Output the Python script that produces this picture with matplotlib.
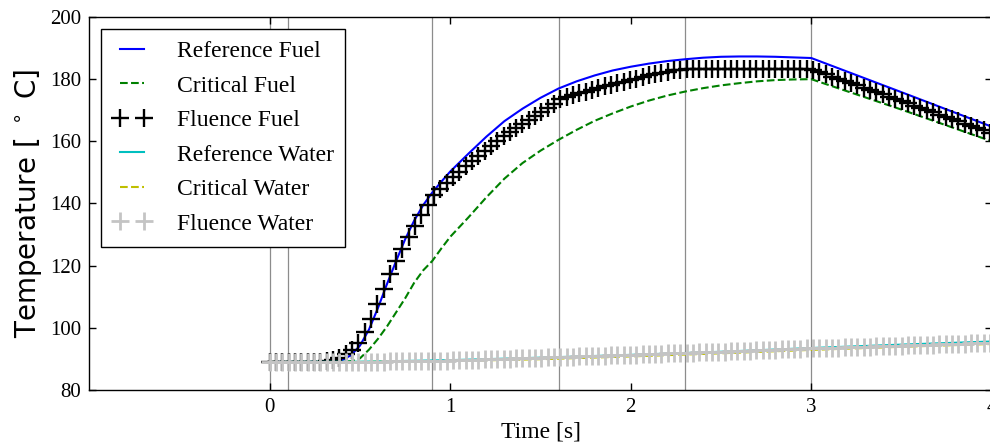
#!/usr/bin/env python3
"""
Fuel / water temperature transient: reference vs critical vs fluence
"""

import numpy as np
import matplotlib
matplotlib.use('Agg')
import matplotlib.pyplot as plt

# --- data --------------------------------------------------------------
# smooth reference / critical fuel curves
t_fuel = [0.0, 0.1, 0.2, 0.3, 0.35, 0.4, 0.45, 0.5, 0.55, 0.6, 0.65, 0.7, 0.75,
          0.8, 0.85, 0.9, 0.95, 1.0, 1.1, 1.2, 1.3, 1.4, 1.5, 1.6, 1.7, 1.8,
          1.9, 2.0, 2.1, 2.2, 2.3, 2.4, 2.5, 2.6, 2.7, 2.8, 2.9, 3.0, 3.5, 4.0]
ref_fuel = [89.0, 89.0, 89.0, 89.0, 89.2, 89.6, 91.2, 94.3, 99.5, 106.5, 114.2,
            121.5, 128.5, 134.5, 139.5, 143.5, 147.0, 150.3, 156.0, 161.5, 166.5,
            170.5, 174.0, 177.0, 179.3, 181.2, 182.8, 184.0, 185.0, 185.8, 186.4,
            186.9, 187.2, 187.3, 187.3, 187.2, 187.0, 186.8, 175.8, 164.7]
crit_fuel = [89.0, 89.0, 89.0, 89.0, 89.0, 89.0, 89.3, 90.2, 93.0, 96.5, 100.5,
             105.0, 109.5, 114.5, 118.5, 121.5, 125.5, 129.3, 135.5, 142.0, 148.0,
             153.0, 157.0, 160.5, 163.7, 166.6, 169.0, 171.2, 173.1, 174.7, 176.0,
             177.1, 178.0, 178.7, 179.3, 179.7, 179.9, 180.0, 170.2, 160.0]

# smooth reference / critical water curves
t_water = [0.0, 0.5, 1.0, 1.5, 2.0, 2.5, 3.0, 3.5, 4.0]
ref_water = [89.0, 89.1, 89.6, 90.4, 91.3, 92.3, 93.5, 94.6, 95.6]
crit_water = [89.0, 89.0, 89.3, 89.9, 90.8, 91.8, 92.9, 93.9, 94.8]

# fluence samples (one every 0.035 s)
dt_fluence = 0.035
fluence_fuel = [
    89.0, 89.0, 89.0, 89.0, 89.0, 89.0, 89.0, 89.0, 89.0,
    89.3, 89.6, 90.2, 91.5, 93.0, 95.2, 98.6, 102.8, 107.6, 112.6,
    117.2, 121.4, 125.4, 129.2, 132.8, 136.3, 139.6, 142.8,
    144.6, 146.6, 148.4, 150.2, 152.0, 153.7, 155.4, 157.0, 158.6, 160.1,
    161.6, 163.0, 164.4, 165.7, 167.0, 168.2, 169.4, 170.6, 172.0,
    173.6, 174.2, 174.8, 175.4, 176.0, 176.6, 177.2, 177.7, 178.2, 178.7,
    179.2, 179.7, 180.2, 180.7, 181.2, 181.6, 182.0, 182.4, 182.8, 183.1, 183.3,
    183.3, 183.3, 183.3, 183.3, 183.3, 183.3, 183.3, 183.3, 183.3, 183.3,
    183.3, 183.3, 183.3, 183.3, 183.3, 183.3, 183.3, 183.3, 183.3,
    183.0, 182.3, 181.6, 180.8, 180.1, 179.4, 178.7, 178.0, 177.2, 176.5,
    175.8, 175.1, 174.4, 173.6, 172.9, 172.2, 171.5, 170.8, 170.0, 169.3,
    168.6, 167.9, 167.2, 166.4, 165.7, 165.0, 164.3, 163.6, 162.8,
]
fluence_water = [
    89.0, 89.0, 89.0, 89.0, 89.0, 89.0, 89.0, 89.0, 89.0, 89.0,
    89.0, 89.0, 89.0, 89.0, 89.0,
    89.03, 89.06, 89.10, 89.13, 89.17, 89.20, 89.24, 89.27, 89.31, 89.34,
    89.38, 89.41, 89.45, 89.48, 89.53,
    89.59, 89.66, 89.72, 89.79, 89.85, 89.92, 89.98, 90.05, 90.11, 90.18,
    90.24, 90.31, 90.37, 90.44, 90.50, 90.57, 90.63, 90.70, 90.76, 90.83,
    90.89, 90.96, 91.02, 91.09, 91.15, 91.22, 91.28, 91.35, 91.41, 91.48,
    91.54, 91.61, 91.67, 91.74, 91.80, 91.87, 91.93,
    92.00, 92.08, 92.15, 92.23, 92.30, 92.38, 92.45, 92.53, 92.60, 92.68,
    92.75, 92.83, 92.90, 92.98, 93.05, 93.13, 93.20, 93.28, 93.35,
    93.41, 93.47, 93.54, 93.60, 93.66, 93.73, 93.79, 93.85, 93.92, 93.98,
    94.04, 94.10, 94.17, 94.23, 94.29, 94.36, 94.42, 94.48, 94.55, 94.61,
    94.67, 94.73, 94.80, 94.86, 94.92, 94.99, 95.05, 95.11, 95.18,
]
t_fluence = np.arange(len(fluence_fuel)) * dt_fluence

# coupling time steps (thin vertical lines)
t_steps = [0.0, 0.1, 0.9, 1.6, 2.3, 3.0]

x_ticks = [0, 1, 2, 3, 4]
y_ticks = [80, 100, 120, 140, 160, 180, 200]

# --- figure --------------------------------------------------------------
serif = 'Liberation Serif'

fig = plt.figure(figsize=(9.9, 4.46), dpi=100, facecolor='white')
ax = fig.add_axes([0.0902, 0.1256, 0.9116, 0.8363])

for t in t_steps:
    ax.axvline(t, color='0.55', linewidth=0.9, zorder=1)

ax.plot(t_fuel, ref_fuel, '-', color='#0000ff', linewidth=1.5, label='Reference Fuel')
ax.plot(t_fuel, crit_fuel, '--', color='#008000', linewidth=1.5, label='Critical Fuel')
ax.plot(t_fluence, fluence_fuel, linestyle='none', marker='+', markersize=13,
        markeredgewidth=1.7, color='black', label='Fluence Fuel')
ax.plot(t_water, ref_water, '-', color='#00bfbf', linewidth=1.5, label='Reference Water')
ax.plot(t_water, crit_water, '--', color='#bfbf00', linewidth=1.5, label='Critical Water')
ax.plot(t_fluence, fluence_water, linestyle='none', marker='+', markersize=13,
        markeredgewidth=2.0, color='#c4c4c4', label='Fluence Water')

ax.set_xlim(-1, 4)
ax.set_ylim(80, 200)
ax.set_xticks(x_ticks)
ax.set_yticks(y_ticks)
ax.tick_params(direction='in', top=True, right=True, length=5, width=1,
               labelsize=15, pad=6)
for lbl in ax.get_xticklabels() + ax.get_yticklabels():
    lbl.set_fontfamily(serif)

for sp in ax.spines.values():
    sp.set_linewidth(1.0)

ax.set_xlabel('Time [s]', fontsize=17, family=serif, labelpad=3)
ax.set_ylabel('Temperature [ $^\\circ$ C]', fontsize=20, family='DejaVu Sans',
              labelpad=4)

leg = ax.legend(loc='upper left', numpoints=2, fancybox=False, framealpha=1,
                edgecolor='black', prop={'family': serif, 'size': 17},
                handlelength=1.6, handletextpad=1.1, labelspacing=0.55,
                borderaxespad=0.5, borderpad=0.5)
leg.get_frame().set_linewidth(1.0)
leg.set_zorder(5)

plt.savefig('out.png', dpi=100, facecolor='white')
plt.close()
